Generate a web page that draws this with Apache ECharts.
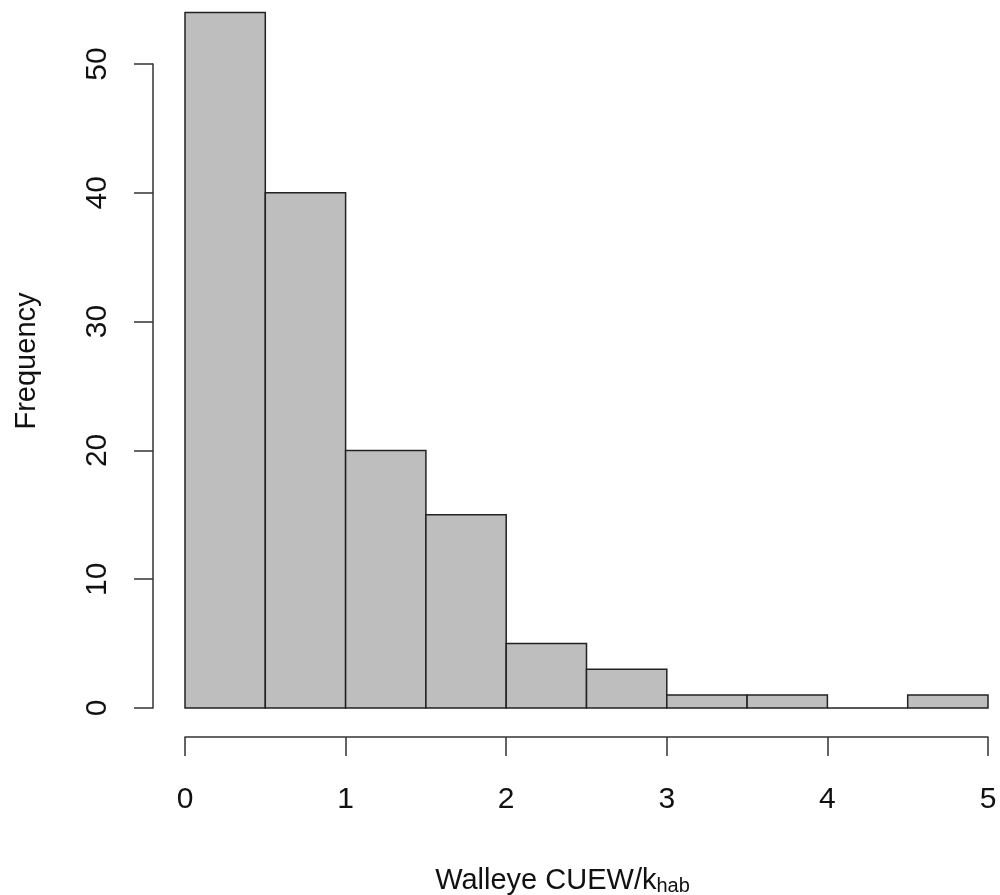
<!DOCTYPE html>
<html><head><meta charset="utf-8">
<script src="https://cdn.jsdelivr.net/npm/echarts@6/dist/echarts.min.js"></script>
<style>html,body{margin:0;padding:0;background:#fff}#c{width:1000px;height:895px}</style>
</head><body><div id="c"></div>
<script>
const binStart = [0, 0.5, 1, 1.5, 2, 2.5, 3, 3.5, 4, 4.5];
const binEnd   = [0.5, 1, 1.5, 2, 2.5, 3, 3.5, 4, 4.5, 5];
const counts   = [54, 40, 20, 15, 5, 3, 1, 1, 0, 1];
const xTicks = [0, 1, 2, 3, 4, 5];
const yTicks = [0, 10, 20, 30, 40, 50];

const data = binStart.map((s, i) => [s, binEnd[i], counts[i]]);
const font = 'Liberation Sans, Arial, sans-serif';
const chart = echarts.init(document.getElementById('c'), null, {renderer: 'canvas'});
chart.setOption({
  animation: false,
  grid: {left: 185, right: 12, top: 64, bottom: 187, containLabel: false, outerBoundsMode: 'none'},
  xAxis: {
    type: 'value', min: 0, max: 5, interval: 1, offset: 29,
    axisLine: {show: true, onZero: false, lineStyle: {color: '#333', width: 1.5}},
    axisTick: {show: true, length: 19, lineStyle: {color: '#333', width: 1.5}},
    axisLabel: {margin: 48, fontSize: 30, color: '#111', fontFamily: font,
      formatter: v => xTicks.includes(v) ? String(v) : ''},
    splitLine: {show: false},
    name: 'Walleye CUEW/k{sub|hab}', nameLocation: 'middle', nameGap: 128,
    nameTextStyle: {fontSize: 29, color: '#111', fontFamily: font, padding: [0, 48, 0, 0],
      rich: {sub: {fontSize: 20, color: '#111', fontFamily: font, padding: [11, 0, 0, 0]}}}
  },
  yAxis: {
    type: 'value', min: 0, max: 50, interval: 10, offset: 32,
    axisLine: {show: true, onZero: false, lineStyle: {color: '#333', width: 1.5}},
    axisTick: {show: true, length: 19, lineStyle: {color: '#333', width: 1.5}},
    axisLabel: {margin: 40, fontSize: 30, color: '#111', fontFamily: font, rotate: 90,
      formatter: v => yTicks.includes(v) ? String(v) : ''},
    splitLine: {show: false},
    name: 'Frequency', nameLocation: 'middle', nameGap: 112, nameRotate: 90,
    nameTextStyle: {fontSize: 29, color: '#111', fontFamily: font, padding: [0, 0, 0, 50]}
  },
  series: [{
    type: 'custom',
    clip: false,
    data: data,
    encode: {x: [0, 1], y: 2},
    renderItem: function (params, api) {
      const p0 = api.coord([api.value(0), api.value(2)]);
      const p1 = api.coord([api.value(1), 0]);
      return {
        type: 'rect',
        shape: {x: p0[0], y: p0[1], width: p1[0] - p0[0], height: p1[1] - p0[1]},
        style: {fill: '#bebebe', stroke: '#222', lineWidth: 1.5}
      };
    }
  }]
});
</script></body></html>
